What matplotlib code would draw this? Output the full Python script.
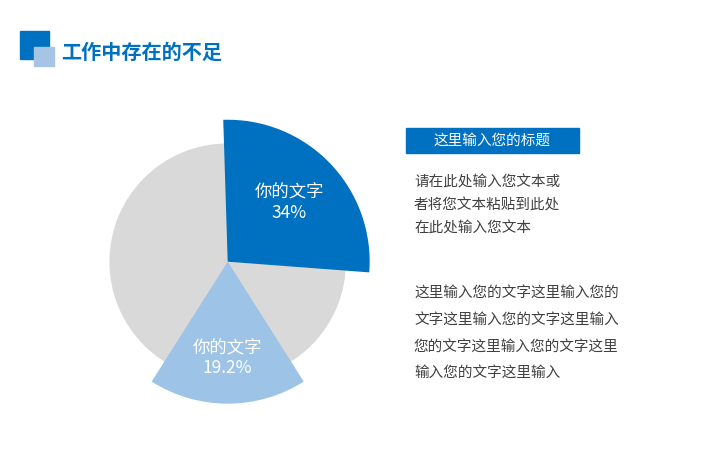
import matplotlib.pyplot as plt
import numpy as np
from matplotlib.patches import Rectangle

plt.rcParams['font.family'] = ['Noto Sans CJK SC', 'DejaVu Sans']

# slice shares as drawn (clockwise from the top), labels as printed
slice_shares = [26.7, 14.8, 18.0, 40.5]
slice_colors = ['#0070C0', 'none', '#9DC3E6', 'none']
slice_labels = ['你的文字\n34%', None, '你的文字\n19.2%', None]
label_dist = [0.6, 0, 0.68, 0]

title = '工作中存在的不足'
box_title = '这里输入您的标题'
para1 = ['请在此处输入您文本或', '者将您文本粘贴到此处', '在此处输入您文本']
para2 = ['这里输入您的文字这里输入您的', '文字这里输入您的文字这里输入',
         '您的文字这里输入您的文字这里', '输入您的文字这里输入']

W, H = 720, 450
fig = plt.figure(figsize=(7.2, 4.5), dpi=100)

def fx(px):
    return px / W

def fy(py):
    return 1 - py / H

# header icon
fig.patches.append(Rectangle((fx(20), fy(59)), 29 / W, 28 / H, transform=fig.transFigure,
                             color='#0070C0', zorder=1))
fig.patches.append(Rectangle((fx(34), fy(66)), 20 / W, 19 / H, transform=fig.transFigure,
                             color='#A6C4E5', zorder=2))
fig.text(fx(61), fy(52), title, fontsize=14.5, fontweight='bold', color='#0070C0',
         va='center', ha='left')

# pie
cx, cy, unit = 227.7, 261.7, 118.3
half = 150
ax = fig.add_axes([fx(cx - half), fy(cy + half), 2 * half / W, 2 * half / H])
ax.pie([1], radius=1.0, colors=['#D9D9D9'], startangle=90)
start = 91.8
ax.pie(slice_shares, radius=1.2, colors=slice_colors, startangle=start,
       counterclock=False, wedgeprops=dict(linewidth=0))
lim = half / unit
ax.set_xlim(-lim, lim)
ax.set_ylim(-lim, lim)
ax.axis('off')

total = sum(slice_shares)
acc = 0
for share, lab, d in zip(slice_shares, slice_labels, label_dist):
    mid = np.deg2rad(start - (acc + share / 2) / total * 360)
    acc += share
    if lab is None:
        continue
    ax.text(1.2 * d * np.cos(mid), 1.2 * d * np.sin(mid), lab, ha='center', va='center',
            fontsize=12.5, color='white', linespacing=1.15)

# right-side text block
fig.patches.append(Rectangle((fx(406), fy(153)), 173 / W, 25 / H, transform=fig.transFigure,
                             color='#0070C0'))
fig.text(fx(492), fy(140.5), box_title, fontsize=10.5, color='white', ha='center', va='center')

for i, line in enumerate(para1):
    fig.text(fx(414), fy(182 + i * 23), line, fontsize=10.5, color='#404040',
             ha='left', va='center')
for i, line in enumerate(para2):
    fig.text(fx(414), fy(293 + i * 26.7), line, fontsize=10.5, color='#404040',
             ha='left', va='center')

fig.savefig('out.png', dpi=100)
